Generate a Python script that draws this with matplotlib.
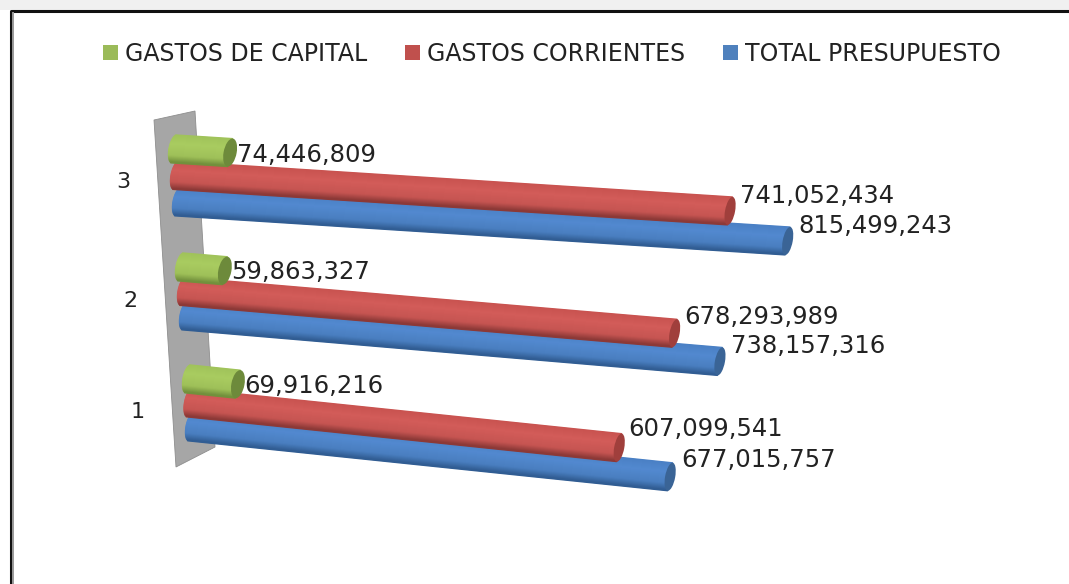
# 3D-style cylinder bars, budget by category

import numpy as np
import matplotlib
matplotlib.use("Agg")
import matplotlib.pyplot as plt
from matplotlib.patches import Ellipse, Patch, Polygon
from matplotlib.transforms import Affine2D

categories = ["1", "2", "3"]
total_presupuesto = [677015757, 738157316, 815499243]
gastos_corrientes = [607099541, 678293989, 741052434]
gastos_capital = [69916216, 59863327, 74446809]

# perspective of the chart, one entry per category (pixels)
ROW_SCALE = [0.707, 0.724, 0.747]  # px per million
ROW_SLOPE = [0.104, 0.085, 0.064]
ROW_X0 = [191.5, 185.5, 178.5]  # blue bar origin
ROW_Y0 = [427, 316, 202]
ROW_STEP_X = [-1.5, -2, -2]
ROW_STEP_Y = [-24, -24.5, -26.5]
LABEL_XY = [(138, 412), (130, 301), (123, 182)]

RADIUS = 14
LEFT_RX = 5.5
N_STRIPS = 28

SERIES = [
    (total_presupuesto, "TOTAL PRESUPUESTO", "#4f81bd", "#3a6496",
     ["#4a80c4", "#5289d0", "#4a7fc0", "#2f5a90"], 11, [-17, -15, -15], 5),
    (gastos_corrientes, "GASTOS CORRIENTES", "#c0504d", "#a03f3c",
     ["#c8534f", "#d35c59", "#c65552", "#873735"], 9.5, [-19, -16, -15], 5),
    (gastos_capital, "GASTOS DE CAPITAL", "#9bbb59", "#6d8a3b",
     ["#9fc25a", "#a9cc60", "#9fc159", "#6f8c3a"], 6.5, [2, 1, 2], 6.5),
]


def strip_color(stops, t):
    # t goes from -1 (top of the cylinder) to 1 (bottom)
    pos = [-1.0, -0.3, 0.5, 1.0]
    rgb = np.array([matplotlib.colors.to_rgb(c) for c in stops])
    return [np.interp(t, pos, rgb[:, i]) for i in range(3)]


def draw_cylinder(ax, row, step, value, stops, cap_color, cap_rx):
    millions = value / 1e6
    scale = ROW_SCALE[row]
    x0 = ROW_X0[row] + ROW_STEP_X[row] * step
    y0 = ROW_Y0[row] + ROW_STEP_Y[row] * step
    tf = Affine2D.from_values(scale, scale * ROW_SLOPE[row], -2.5, RADIUS, x0, y0) + ax.transData

    left_rx = LEFT_RX / scale
    edges = np.linspace(-1, 1, N_STRIPS + 1)
    for low, high in zip(edges[:-1], edges[1:]):
        mid = (low + high) / 2
        left = -left_rx * np.sqrt(1 - mid ** 2)
        color = strip_color(stops, mid)
        ax.barh(mid, millions - left, height=high - low, left=left, color=color,
                edgecolor=color, linewidth=0.9, transform=tf, zorder=3 + row * 0.1)
    ax.add_patch(Ellipse((millions, 0), 2 * cap_rx / scale, 2, facecolor=cap_color, edgecolor="none",
                         transform=tf, zorder=3 + row * 0.1))
    end_x = x0 + scale * millions
    end_y = y0 + scale * ROW_SLOPE[row] * millions
    return end_x, end_y


fig = plt.figure(figsize=(10.69, 5.84), dpi=100)
ax = fig.add_axes([0, 0, 1, 1])

# frame left over from the page
ax.axhspan(0, 10, color="#f0f0f0", lw=0, zorder=0)
ax.plot([10.5, 10.5, 1069], [584, 11, 11], color="#111111", lw=2.2, zorder=1)
ax.plot([13, 13], [584, 13], color="#9a9a9a", lw=1.4, zorder=1)

# side wall
wall = [(154, 120), (195, 111), (215, 447), (176, 467)]
ax.add_patch(Polygon(wall, closed=True, facecolor="#a6a6a6", edgecolor="#8e8e8e", lw=0.6, zorder=2))

for row, cat in enumerate(categories):
    ax.text(*LABEL_XY[row], cat, fontsize=16, color="#222222", ha="center", va="center",
            zorder=6)
    for step, (values, name, color, cap, stops, dx, dy, cap_rx) in enumerate(SERIES):
        end_x, end_y = draw_cylinder(ax, row, step, values[row], stops, cap, cap_rx)
        ax.text(end_x + dx, end_y + dy[row], f"{values[row]:,}", fontsize=17.5,
                color="#222222", ha="left", va="center", zorder=6)

handles = [Patch(facecolor=s[2], edgecolor="none", label=s[1]) for s in reversed(SERIES)]
ax.legend(handles=handles, ncol=3, loc="center", bbox_to_anchor=(552 / 1069, 1 - 54 / 584),
          frameon=False, fontsize=17, handlelength=0.63, handleheight=0.63, handletextpad=0.3,
          columnspacing=1.6, labelcolor="#222222")

ax.set_xlim(0, 1069)
ax.set_ylim(584, 0)
ax.axis("off")

fig.savefig("out.png", dpi=100)
